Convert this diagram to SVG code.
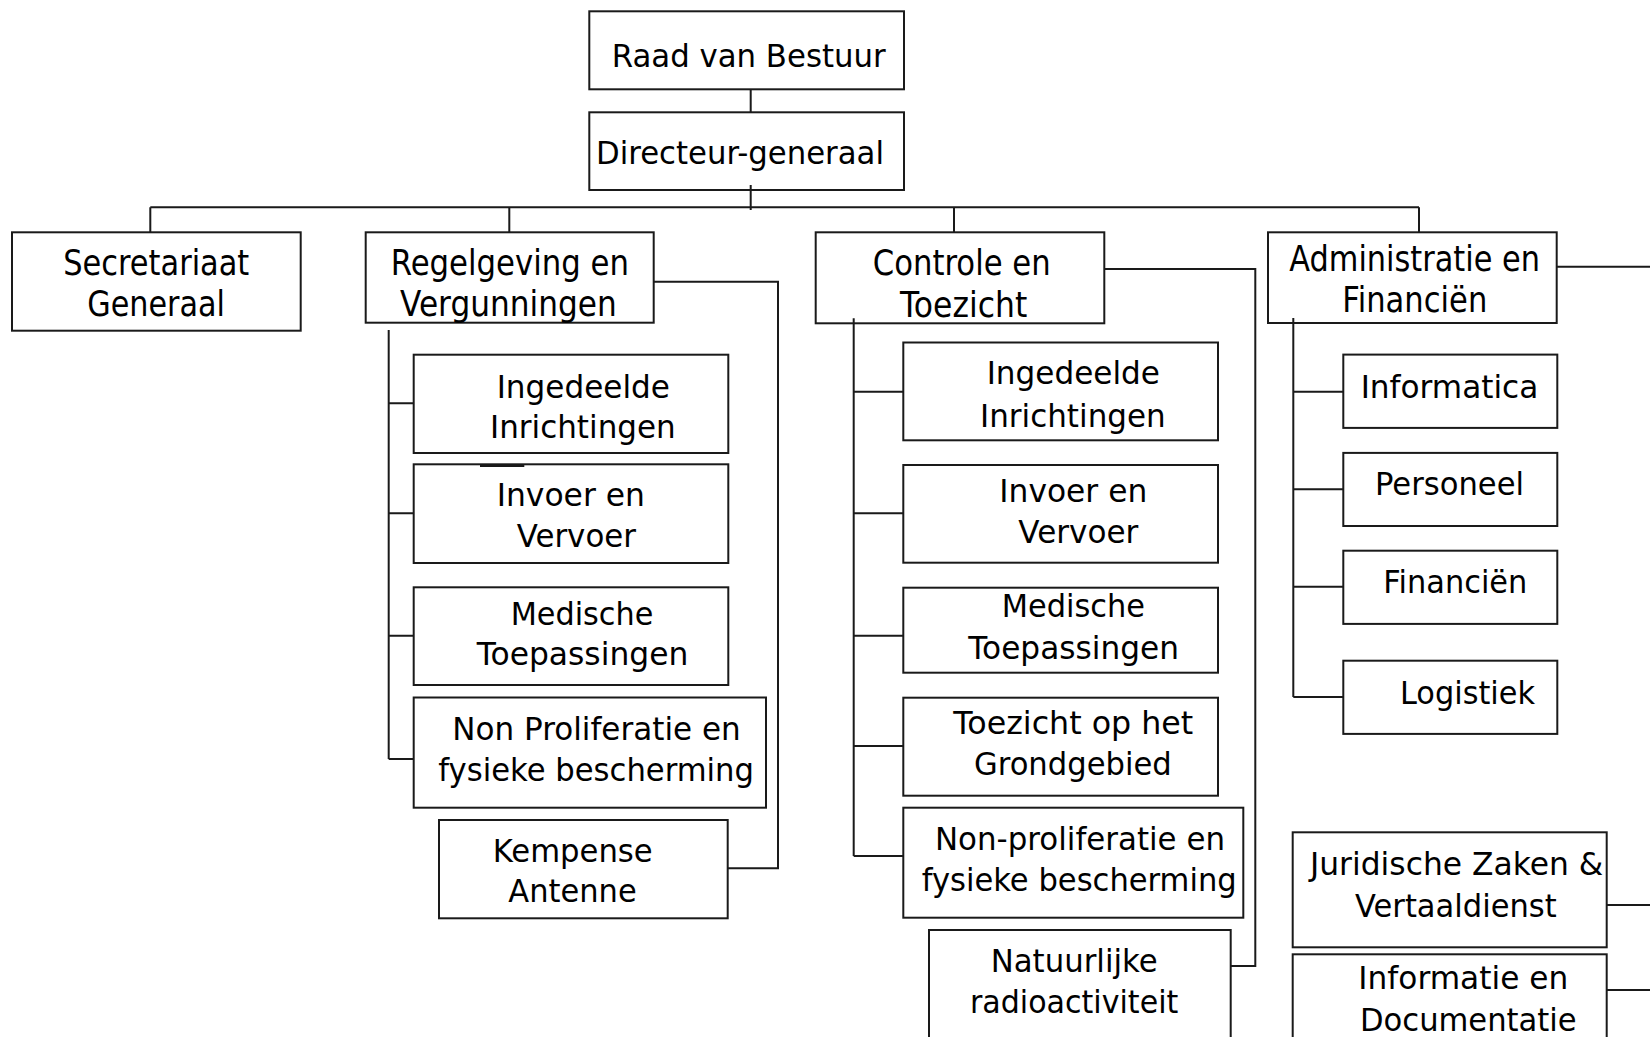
<svg xmlns="http://www.w3.org/2000/svg" width="1650" height="1037" viewBox="0 0 1650 1037">
<style>
.b{fill:#fff;stroke:#1a1a1a;stroke-width:2}
.c{fill:none;stroke:#1a1a1a;stroke-width:2}
text{font-family:"DejaVu Sans","Liberation Sans",sans-serif;font-size:32px;fill:#000}
.L{font-size:35px}
</style>
<rect width="1650" height="1037" fill="#fff"/>
<g id="raad"><rect class="b" x="589.3" y="11.3" width="314.7" height="78"/><text x="611.7" y="66.7" textLength="274" lengthAdjust="spacingAndGlyphs">Raad van Bestuur</text></g>
<g id="dg"><rect class="b" x="589.3" y="112.3" width="314.7" height="77.7"/><text x="596" y="164" textLength="288" lengthAdjust="spacingAndGlyphs">Directeur-generaal</text></g>
<g id="secretariaat"><rect class="b" x="12" y="232.3" width="288.7" height="98.4"/><text class="L" x="63.3" y="275" textLength="186" lengthAdjust="spacingAndGlyphs">Secretariaat</text><text class="L" x="87.3" y="316" textLength="137.7" lengthAdjust="spacingAndGlyphs">Generaal</text></g>
<g id="regelgeving"><rect class="b" x="365.7" y="232.3" width="288" height="90.4"/><text class="L" x="390.7" y="275" textLength="238.3" lengthAdjust="spacingAndGlyphs">Regelgeving en</text><text class="L" x="400" y="316" textLength="216.7" lengthAdjust="spacingAndGlyphs">Vergunningen</text></g>
<g id="controle"><rect class="b" x="815.7" y="232.3" width="288.6" height="91"/><text class="L" x="872.7" y="275" textLength="178" lengthAdjust="spacingAndGlyphs">Controle en</text><text class="L" x="900" y="316.7" textLength="127.3" lengthAdjust="spacingAndGlyphs">Toezicht</text></g>
<g id="administratie"><rect class="b" x="1268" y="232.3" width="288.7" height="90.7"/><text class="L" x="1289.3" y="271" textLength="250.7" lengthAdjust="spacingAndGlyphs">Administratie en</text><text class="L" x="1342.3" y="312" textLength="145" lengthAdjust="spacingAndGlyphs">Financiën</text></g>
<g id="r-ingedeelde"><rect class="b" x="413.7" y="354.7" width="314.6" height="98.3"/><text x="496.7" y="397.7" textLength="173.3" lengthAdjust="spacingAndGlyphs">Ingedeelde</text><text x="490" y="438.3" textLength="185.7" lengthAdjust="spacingAndGlyphs">Inrichtingen</text></g>
<g id="r-invoer"><rect class="b" x="413.7" y="464.3" width="314.6" height="98.7"/><text x="496.7" y="505.7" textLength="148.3" lengthAdjust="spacingAndGlyphs">Invoer en</text><text x="516.7" y="547.3" textLength="119.3" lengthAdjust="spacingAndGlyphs">Vervoer</text></g>
<g id="r-medische"><rect class="b" x="413.7" y="587.3" width="314.6" height="97.7"/><text x="510.7" y="625" textLength="142.6" lengthAdjust="spacingAndGlyphs">Medische</text><text x="476.7" y="665" textLength="211.6" lengthAdjust="spacingAndGlyphs">Toepassingen</text></g>
<g id="r-nonproliferatie"><rect class="b" x="413.7" y="697.5" width="352.3" height="110.2"/><text x="452.3" y="740" textLength="288.4" lengthAdjust="spacingAndGlyphs">Non Proliferatie en</text><text x="438.3" y="780.7" textLength="315.7" lengthAdjust="spacingAndGlyphs">fysieke bescherming</text></g>
<g id="r-kempense"><rect class="b" x="439" y="820" width="288.7" height="98.3"/><text x="492.7" y="861.7" textLength="160" lengthAdjust="spacingAndGlyphs">Kempense</text><text x="508.3" y="902.3" textLength="128.4" lengthAdjust="spacingAndGlyphs">Antenne</text></g>
<g id="c-ingedeelde"><rect class="b" x="903.3" y="342.5" width="314.7" height="97.8"/><text x="986.7" y="384" textLength="173.3" lengthAdjust="spacingAndGlyphs">Ingedeelde</text><text x="980" y="426.7" textLength="185.7" lengthAdjust="spacingAndGlyphs">Inrichtingen</text></g>
<g id="c-invoer"><rect class="b" x="903.3" y="465" width="314.7" height="97.7"/><text x="999.3" y="501.7" textLength="148" lengthAdjust="spacingAndGlyphs">Invoer en</text><text x="1018.3" y="542.7" textLength="120" lengthAdjust="spacingAndGlyphs">Vervoer</text></g>
<g id="c-medische"><rect class="b" x="903.3" y="587.7" width="314.7" height="85"/><text x="1001.7" y="617.3" textLength="143.3" lengthAdjust="spacingAndGlyphs">Medische</text><text x="968.3" y="659.3" textLength="210.7" lengthAdjust="spacingAndGlyphs">Toepassingen</text></g>
<g id="c-toezicht"><rect class="b" x="903.3" y="697.7" width="314.7" height="98"/><text x="953.3" y="734.3" textLength="240" lengthAdjust="spacingAndGlyphs">Toezicht op het</text><text x="974" y="775" textLength="197.7" lengthAdjust="spacingAndGlyphs">Grondgebied</text></g>
<g id="c-nonproliferatie"><rect class="b" x="903.3" y="807.7" width="340" height="110"/><text x="935" y="850" textLength="290" lengthAdjust="spacingAndGlyphs">Non-proliferatie en</text><text x="921.7" y="890.7" textLength="315" lengthAdjust="spacingAndGlyphs">fysieke bescherming</text></g>
<g id="c-natuurlijke"><rect class="b" x="929" y="930" width="301.7" height="120"/><text x="990.7" y="971.7" textLength="167" lengthAdjust="spacingAndGlyphs">Natuurlijke</text><text x="970" y="1013.3" textLength="208.3" lengthAdjust="spacingAndGlyphs">radioactiviteit</text></g>
<g id="a-informatica"><rect class="b" x="1343.3" y="354.6" width="214" height="73.3"/><text x="1360.7" y="397.5" textLength="177.6" lengthAdjust="spacingAndGlyphs">Informatica</text></g>
<g id="a-personeel"><rect class="b" x="1343.3" y="452.9" width="214" height="73.1"/><text x="1375" y="494.6" textLength="149" lengthAdjust="spacingAndGlyphs">Personeel</text></g>
<g id="a-financien"><rect class="b" x="1343.3" y="550.7" width="214" height="73.2"/><text x="1383.3" y="592.9" textLength="144" lengthAdjust="spacingAndGlyphs">Financiën</text></g>
<g id="a-logistiek"><rect class="b" x="1343.3" y="660.7" width="214" height="73.2"/><text x="1400" y="703.6" textLength="135" lengthAdjust="spacingAndGlyphs">Logistiek</text></g>
<g id="juridische"><rect class="b" x="1292.7" y="832.3" width="314" height="115"/><text x="1310" y="874.5" textLength="293.3" lengthAdjust="spacingAndGlyphs">Juridische Zaken &amp;</text><text x="1355" y="916.7" textLength="201.7" lengthAdjust="spacingAndGlyphs">Vertaaldienst</text></g>
<g id="informatie"><rect class="b" x="1292.7" y="954.3" width="314" height="100"/><text x="1358.3" y="989" textLength="210" lengthAdjust="spacingAndGlyphs">Informatie en</text><text x="1360" y="1031" textLength="216.7" lengthAdjust="spacingAndGlyphs">Documentatie</text></g>
<g id="connectors">
<path class="c" d="M750.7 89.3V112.3M750.7 185V210M150.3 207.3H1419M150.3 207.3V232.3M509.3 207.3V232.3M954 207.3V232.3M1419 207.3V232.3"/>
<path class="c" d="M388.7 330V759M388.7 403.3H413.7M388.7 513.3H413.7M388.7 635.7H413.7M388.7 759H413.7"/>
<path class="c" d="M653.7 281.7H778V868.3H727.7"/>
<path class="c" d="M480 466H524.3"/>
<path class="c" d="M853.7 318.3V856M853.7 391.7H903.3M853.7 513.3H903.3M853.7 635.7H903.3M853.7 746H903.3M853.7 856H903.3"/>
<path class="c" d="M1104.3 269H1255.3V966H1230.7"/>
<path class="c" d="M1293.3 317.9V697.1M1293.3 391.8H1343.3M1293.3 489.3H1343.3M1293.3 586.8H1343.3M1293.3 697.1H1343.3"/>
<path class="c" d="M1556.7 266.8H1650M1606.7 905H1650M1606.7 990H1650"/>
</g>
</svg>
